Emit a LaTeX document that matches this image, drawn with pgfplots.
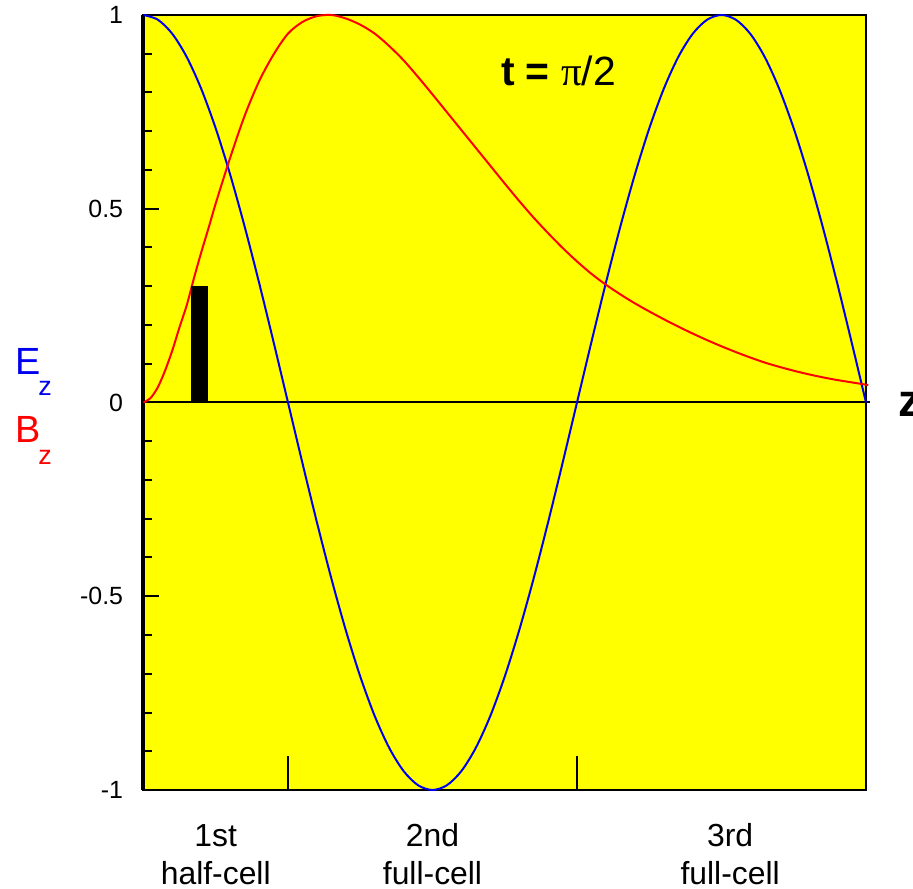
\documentclass[border=0pt]{standalone}
\usepackage{fontspec}
\setmainfont{Liberation Sans}
\newfontfamily\symfont{Liberation Serif}
\usepackage{pgfplots}
\pgfplotsset{compat=1.18}

\definecolor{bgyellow}{RGB}{255,255,0}
\definecolor{ezblue}{RGB}{0,0,240}
\definecolor{bzred}{RGB}{255,0,0}

\tikzset{cell/.style={anchor=base, inner sep=0pt, font=\fontsize{16}{17}\selectfont}}

\begin{document}
\begin{tikzpicture}
% page frame around the axis box (axis box lower-left corner sits at the origin)
\useasboundingbox (-71.75bp,-49.5bp) rectangle (384.75bp,395bp);
\begin{axis}[
  scale only axis,
  width=361.25bp, height=387.5bp,
  xmin=0, xmax=2.5, ymin=-1, ymax=1,
  clip=false,
  axis background/.style={fill=bgyellow},
  axis line style={line width=1bp, black},
  tick align=inside,
  ytick={-1,-0.5,0,0.5,1},
  yticklabels={-1,-0.5,0,0.5,1},
  minor y tick num=4,
  ytick pos=left,
  major tick length=7.5bp,
  minor tick length=4.5bp,
  ytick style={line width=1bp, black},
  minor tick style={line width=1bp, black},
  yticklabel style={font=\fontsize{12.5}{13}\selectfont, inner sep=0pt, xshift=-10bp},
  xtick={0.5,1.5},
  xticklabels={},
  xtick pos=lower,
  xtick style={line width=0.6bp, black, /pgfplots/major tick length=17bp},
]
% heavier left and bottom frame lines, and the zero line
\draw[line width=2bp] (rel axis cs:0,0) -- (rel axis cs:0,1);
\draw[line width=1.3bp] (rel axis cs:0,0) -- (rel axis cs:1,0);
\draw[line width=1bp] (axis cs:0,0) -- (axis cs:2.515,0);

% E_z on axis
\addplot[ezblue, line width=1bp, smooth, no markers] coordinates {
 (0,1) (0.05,0.9877) (0.1,0.9511) (0.15,0.8910) (0.2,0.8090) (0.25,0.7071)
 (0.3,0.5878) (0.35,0.4540) (0.4,0.3090) (0.45,0.1564) (0.5,0)
 (0.55,-0.1564) (0.6,-0.3090) (0.65,-0.4540) (0.7,-0.5878) (0.75,-0.7071)
 (0.8,-0.8090) (0.85,-0.8910) (0.9,-0.9511) (0.95,-0.9877) (1.0,-1)
 (1.05,-0.9877) (1.1,-0.9511) (1.15,-0.8910) (1.2,-0.8090) (1.25,-0.7071)
 (1.3,-0.5878) (1.35,-0.4540) (1.4,-0.3090) (1.45,-0.1564) (1.5,0)
 (1.55,0.1564) (1.6,0.3090) (1.65,0.4540) (1.7,0.5878) (1.75,0.7071)
 (1.8,0.8090) (1.85,0.8910) (1.9,0.9511) (1.95,0.9877) (2.0,1)
 (2.05,0.9877) (2.1,0.9511) (2.15,0.8910) (2.2,0.8090) (2.25,0.7071)
 (2.3,0.5878) (2.35,0.4540) (2.4,0.3090) (2.45,0.1564) (2.5,0)
};

% B_z on axis
\addplot[bzred, line width=1bp, smooth, no markers] coordinates {
 (0,0) (0.025,0.012) (0.05,0.040) (0.075,0.083) (0.1,0.135) (0.125,0.195)
 (0.15,0.252) (0.175,0.322) (0.2,0.388) (0.225,0.450) (0.25,0.514)
 (0.3,0.632) (0.35,0.740) (0.4,0.829) (0.45,0.898) (0.5,0.952)
 (0.55,0.982) (0.6,0.997) (0.65,1.0) (0.7,0.991) (0.75,0.975)
 (0.8,0.952) (0.85,0.920) (0.9,0.883) (0.95,0.840) (1.0,0.795)
 (1.05,0.749) (1.1,0.703) (1.15,0.657) (1.2,0.611) (1.25,0.565)
 (1.3,0.520) (1.35,0.477) (1.4,0.437) (1.45,0.399) (1.5,0.364)
 (1.55,0.332) (1.6,0.304) (1.65,0.279) (1.7,0.256) (1.75,0.235)
 (1.8,0.215) (1.85,0.196) (1.9,0.178) (1.95,0.161) (2.0,0.145)
 (2.05,0.130) (2.1,0.116) (2.15,0.103) (2.2,0.092) (2.25,0.082)
 (2.3,0.073) (2.35,0.065) (2.4,0.058) (2.45,0.052) (2.5,0.046) (2.508,0.045)
};

% beam bunch
\addplot[fill=black, draw=black, line width=0.3bp] coordinates {
 (0.167,0) (0.167,0.3) (0.221,0.3) (0.221,0)
} -- cycle;

% annotations
\node[anchor=base, font=\fontsize{20.5}{21}\selectfont] at (axis cs:1.436,0.819)
  {\textbf{t =} {\symfont π}/2};
\node[anchor=base west, inner sep=0pt, font=\fontsize{23}{24}\selectfont\bfseries]
  at (axis cs:2.612,-0.035) {z};

\node[anchor=base west, inner sep=0pt, text=ezblue, font=\fontsize{19}{20}\selectfont]
  at (axis cs:-0.4446,0.071) {E};
\node[anchor=base west, inner sep=0pt, text=ezblue, font=\fontsize{13.5}{14}\selectfont]
  at (axis cs:-0.365,0.0168) {z};
\node[anchor=base west, inner sep=0pt, text=bzred, font=\fontsize{19}{20}\selectfont]
  at (axis cs:-0.4446,-0.1045) {B};
\node[anchor=base west, inner sep=0pt, text=bzred, font=\fontsize{13.5}{14}\selectfont]
  at (axis cs:-0.365,-0.161) {z};

% cell names under the axis
\node[cell] at (axis cs:0.25,-1.147) {1st};
\node[cell] at (axis cs:0.25,-1.245) {half-cell};
\node[cell] at (axis cs:1.0,-1.147) {2nd};
\node[cell] at (axis cs:1.0,-1.245) {full-cell};
\node[cell] at (axis cs:2.03,-1.147) {3rd};
\node[cell] at (axis cs:2.03,-1.245) {full-cell};
\end{axis}
\end{tikzpicture}
\end{document}
